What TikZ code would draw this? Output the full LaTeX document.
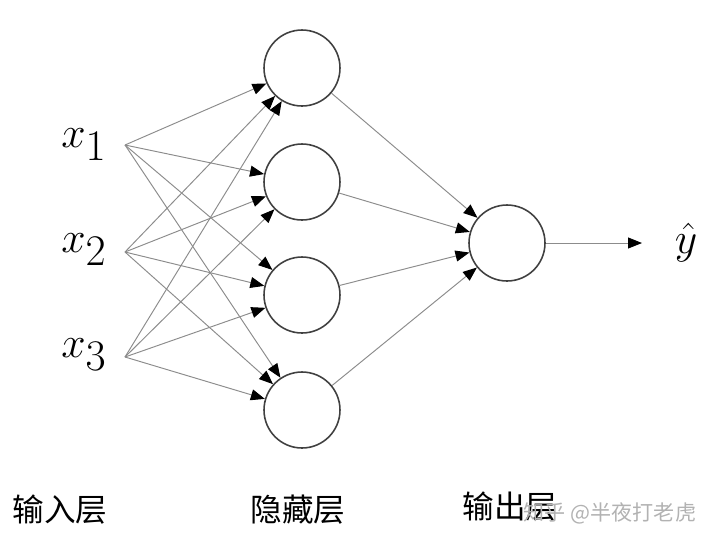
\documentclass[tikz,border=0pt]{standalone}
\usepackage{fontspec}
\newfontfamily\cjk{Noto Sans CJK SC}
\usetikzlibrary{arrows.meta}

\begin{document}
\begin{tikzpicture}[x=0.02cm, y=-0.02cm,
    neuron/.style={draw=black!75, line width=0.9pt, circle, minimum size=1.52cm, inner sep=0pt},
    inlbl/.style={font=\fontsize{34}{38}\selectfont, inner sep=0pt},
    layer/.style={font=\cjk\fontsize{18}{20}\selectfont, inner sep=0pt},
    arr/.style={-{Triangle[length=0.28cm, width=0.22cm, black]}, draw=black!45, line width=0.55pt},
    wmark/.style={font=\cjk\fontsize{12}{14}\selectfont, text=black!30, inner sep=0pt}
]
\useasboundingbox (0,0) rectangle (707,542);

% inputs
\node[inlbl] (x1) at (84,145) {$x_1$};
\node[inlbl] (x2) at (84,250) {$x_2$};
\node[inlbl] (x3) at (84,355) {$x_3$};
\coordinate (i1) at (125,145);
\coordinate (i2) at (125,252);
\coordinate (i3) at (125,357);

% hidden layer
\node[neuron] (h1) at (302,68) {};
\node[neuron] (h2) at (302,182) {};
\node[neuron] (h3) at (302,295) {};
\node[neuron] (h4) at (302,410) {};

% output
\node[neuron] (o) at (507,243) {};
\coordinate (yend) at (642,243);
\node[inlbl] (yhat) at (686,243) {$\hat{y}$};

\foreach \i in {1,2,3}
  \foreach \h in {1,2,3,4}
    \draw[arr] (i\i) -- (h\h);
\foreach \h in {1,2,3,4}
  \draw[arr] (h\h) -- (o);
\draw[arr] (o) -- (yend);

% layer names
\node[layer] (lin) at (60,510) {输入层};
\node[layer] (lhid) at (298,510) {隐藏层};
\node[layer] (lout) at (510,507) {输出层};
\node[wmark] (wm) at (610,513) {知乎 @半夜打老虎};
\end{tikzpicture}
\end{document}
